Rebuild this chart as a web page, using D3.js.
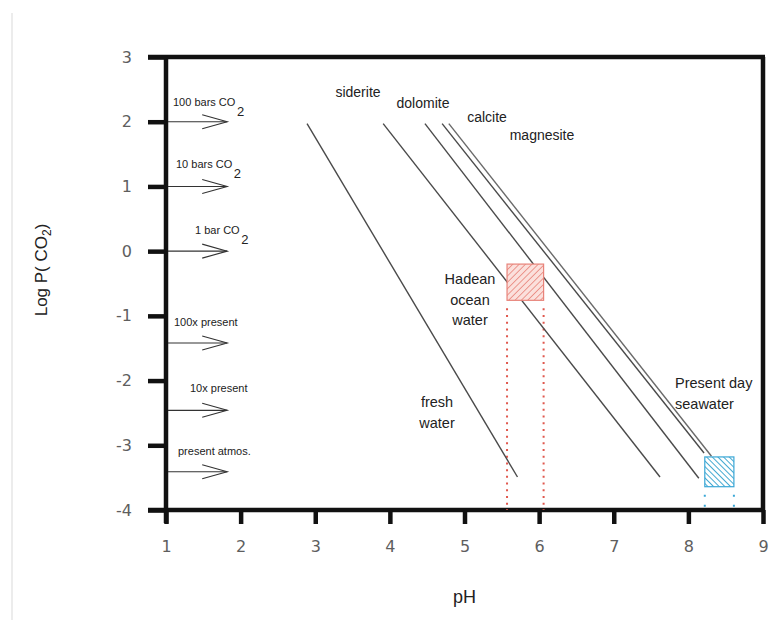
<!DOCTYPE html>
<html><head><meta charset="utf-8">
<script src="https://cdn.jsdelivr.net/npm/d3@7"></script>
<style>
body{margin:0;background:#fff;}
svg{display:block;}
</style></head>
<body>
<script>
// ---- data ----
const xTicks = [1,2,3,4,5,6,7,8,9];
const yTicks = [3,2,1,0,-1,-2,-3,-4];
const lineNames = ["fresh water","siderite","dolomite","calcite","magnesite"];
const lineStartPH = [2.89, 3.91, 4.47, 4.70, 4.79];
const lineStartLogP = [1.97, 1.97, 1.97, 1.97, 1.97];
const lineEndPH = [5.71, 7.62, 8.14, 8.21, 8.31];
const lineEndLogP = [-3.49, -3.49, -3.51, -3.12, -3.17];
const arrowLabels = ["100 bars CO","10 bars CO","1 bar CO","100x present","10x present","present atmos."];
const arrowSub = ["2","2","2","","",""];
const arrowLevels = [2, 1, 0, -1.42, -2.46, -3.41];
const boxNames = ["Hadean ocean water","Present day seawater"];
const boxPH0 = [5.57, 8.22];
const boxPH1 = [6.06, 8.61];
const boxLogP0 = [-0.76, -3.64];
const boxLogP1 = [-0.20, -3.18];

// ---- layout ----
const W = 772, H = 620;
const svg = d3.select("body").append("svg").attr("width", W).attr("height", H);
const x = d3.scaleLinear().domain([1,9]).range([166,763]);
const y = d3.scaleLinear().domain([-4,3]).range([510,57]);
const font = "'Liberation Sans', Arial, sans-serif";

// left grey border
svg.append("line").attr("x1",12).attr("x2",12).attr("y1",13).attr("y2",H)
  .attr("stroke","#e6e6e6").attr("stroke-width",1.5);

// patterns
const defs = svg.append("defs");
const pr = defs.append("pattern").attr("id","hatchRed").attr("patternUnits","userSpaceOnUse")
  .attr("width",4.5).attr("height",4.5).attr("patternTransform","rotate(45)");
pr.append("rect").attr("width",4.5).attr("height",4.5).attr("fill","#fbe0dc");
pr.append("line").attr("x1",0).attr("y1",0).attr("x2",0).attr("y2",4.5).attr("stroke","#e8837a").attr("stroke-width",1.6);
const pb = defs.append("pattern").attr("id","hatchBlue").attr("patternUnits","userSpaceOnUse")
  .attr("width",4).attr("height",4).attr("patternTransform","rotate(-45)");
pb.append("rect").attr("width",4).attr("height",4).attr("fill","#ffffff");
pb.append("line").attr("x1",0).attr("y1",0).attr("x2",0).attr("y2",4).attr("stroke","#2f9fcc").attr("stroke-width",1.8);

// axes
const gx = svg.append("g").attr("transform",`translate(0,${y(-4)})`)
  .call(d3.axisBottom(x).tickValues(xTicks).tickSize(14).tickSizeOuter(0).tickPadding(17).tickFormat(d3.format("d")));
const gy = svg.append("g").attr("transform",`translate(${x(1)},0)`)
  .call(d3.axisLeft(y).tickValues(yTicks).tickSize(18).tickSizeOuter(0).tickPadding(16).tickFormat(d3.format("d")));
[gx,gy].forEach(g=>{
  g.select(".domain").attr("stroke","#111").attr("stroke-width",4.5);
  g.selectAll(".tick line").attr("stroke","#111").attr("stroke-width",4.5);
  g.selectAll(".tick text").attr("fill","#5e5e5e").style("font-family","'DejaVu Sans', sans-serif")
    .style("font-size","16px");
});
gy.selectAll(".tick text").text(d=> d<0 ? "-"+Math.abs(d) : d);
gx.select(".domain").attr("d",`M${x(1)-18},0H${x(9)+2}`);
gy.select(".domain").attr("d",`M0,${y(3)}V${y(-4)+13}`);
// frame top & right
svg.append("path").attr("d",`M${x(1)-18},${y(3)}H${x(9)+2}M${x(9)},${y(3)}V${y(-4)}`)
  .attr("fill","none").attr("stroke","#111").attr("stroke-width",4.5);

// dotted guide lines under boxes
const dotColors = ["#e0584e","#3aa7d6"];
boxNames.forEach((n,i)=>{
  [boxPH0[i], boxPH1[i]].forEach(ph=>{
    svg.append("line").attr("x1",x(ph)).attr("x2",x(ph))
      .attr("y1",y(boxLogP0[i])+8).attr("y2",y(-4))
      .attr("stroke",dotColors[i]).attr("stroke-width",2)
      .attr("stroke-dasharray", i==0 ? "2,4.7" : "2,8");
  });
});

// mineral lines
lineNames.forEach((n,i)=>{
  svg.append("line")
    .attr("x1",x(lineStartPH[i])).attr("y1",y(lineStartLogP[i]))
    .attr("x2",x(lineEndPH[i])).attr("y2",y(lineEndLogP[i]))
    .attr("stroke", i==4 ? "#6a6a6a" : "#4a4a4a").attr("stroke-width",1.4);
});

// boxes
const boxFill = ["url(#hatchRed)","url(#hatchBlue)"];
const boxStroke = ["#e8837a","#3aa7d6"];
boxNames.forEach((n,i)=>{
  svg.append("rect").attr("x",x(boxPH0[i])).attr("y",y(boxLogP1[i]))
    .attr("width",x(boxPH1[i])-x(boxPH0[i])).attr("height",y(boxLogP0[i])-y(boxLogP1[i]))
    .attr("fill",boxFill[i]).attr("stroke",boxStroke[i]).attr("stroke-width",1.2);
});

// arrows
const arrowTextPos = [[173,106],[176,168],[195,234],[174,326],[190,392],[178,455]];
arrowLabels.forEach((lab,i)=>{
  const yy = y(arrowLevels[i]);
  const x0 = x(1)+2, x1 = x(1.82);
  svg.append("line").attr("x1",x0).attr("x2",x1).attr("y1",yy).attr("y2",yy)
    .attr("stroke","#333").attr("stroke-width",1.1);
  svg.append("path").attr("d",`M${x1-25},${yy-7}L${x1},${yy}L${x1-25},${yy+7}`)
    .attr("fill","none").attr("stroke","#333").attr("stroke-width",1.1);
  const t = svg.append("text").attr("x",arrowTextPos[i][0]).attr("y",arrowTextPos[i][1])
    .style("font-family",font).style("font-size","11px").attr("fill","#222").text(lab);
  if (arrowSub[i]) t.append("tspan").attr("dx",1.5).attr("dy",10).style("font-size","13px").text(arrowSub[i]);
});

// mineral labels
const minLabels = [["siderite",358,97],["dolomite",423,108],["calcite",487,122],["magnesite",542,140]];
minLabels.forEach(d=>{
  svg.append("text").attr("x",d[1]).attr("y",d[2]).attr("text-anchor","middle")
    .style("font-family",font).style("font-size","14px").attr("fill","#222").text(d[0]);
});

// region labels
function multi(lines, xx, yy, anchor, lh){
  const t = svg.append("text").attr("text-anchor",anchor)
    .style("font-family",font).style("font-size","14.5px").attr("fill","#222");
  lines.forEach((l,k)=>t.append("tspan").attr("x",xx).attr("y",yy+k*lh).text(l));
}
multi(["Hadean","ocean","water"], 470, 284, "middle", 20.5);
multi(["fresh","water"], 437, 407, "middle", 20.5);
multi(["Present day","seawater"], 675, 388, "start", 20.5);

// axis titles
svg.append("text").attr("x",x(5)).attr("y",603).attr("text-anchor","middle")
  .style("font-family",font).style("font-size","18px").attr("fill","#222").text("pH");
const yt = svg.append("text").attr("transform","translate(47,270) rotate(-90)").attr("text-anchor","middle")
  .style("font-family",font).style("font-size","17px").attr("fill","#222");
yt.append("tspan").text("Log P( CO");
yt.append("tspan").attr("dy",4).style("font-size","12px").text("2");
yt.append("tspan").attr("dy",-4).text(")");
</script>
</body></html>
